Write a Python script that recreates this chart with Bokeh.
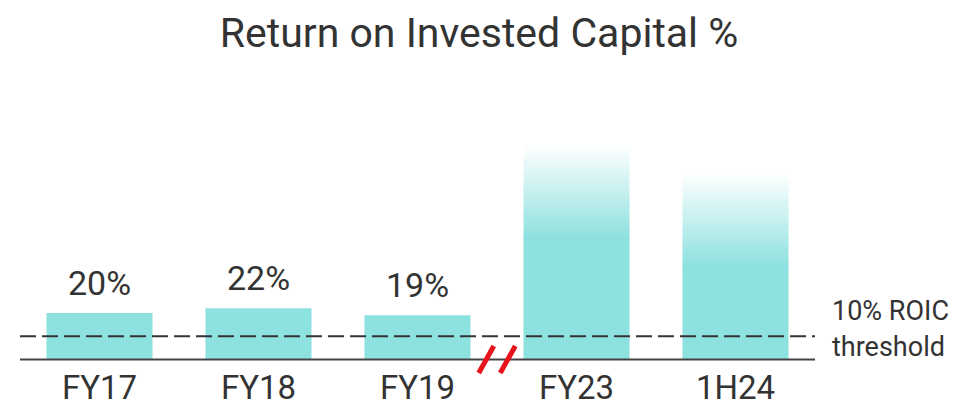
import math
import numpy as np
from bokeh.plotting import figure
from bokeh.models import Range1d, ColumnDataSource, Label
from bokeh.core.properties import value
from bokeh.embed import file_html
from bokeh.resources import INLINE

# ---- data ----
categories = ["FY17", "FY18", "FY19", "FY23", "1H24"]
roic = [20, 22, 19, 92, 80]            # drawn bar heights (%); last two are faded/truncated
value_labels = ["20%", "22%", "19%", "", ""]
faded = [False, False, False, True, True]
threshold = 10
threshold_text = ["10% ROIC", "threshold"]
title_text = "Return on Invested Capital %"
break_after = 2                         # axis break between FY19 and FY23

# ---- styling ----
BAR_RGB = (141, 225, 223)
BAR = "#%02X%02X%02X" % BAR_RGB
TXT = "#333333"
FONT = "Roboto"
W, H = 957, 408
PX_X = 159.0        # px per category
PX_Y = 2.33         # px per %
X0 = 99.0           # canvas x of first category centre
Y0 = 359.0          # canvas y of baseline
BAR_W = 0.667
FADE_LEN = 40.0
OVERLAP = 0.8
N_ROWS = 256

p = figure(width=W, height=H, output_backend="svg", toolbar_location=None,
           x_axis_location=None, y_axis_location=None, min_border=0,
           x_range=Range1d(-X0 / PX_X, (W - X0) / PX_X),
           y_range=Range1d(-(H - Y0) / PX_Y, Y0 / PX_Y))
p.outline_line_color = None
p.xgrid.visible = False
p.ygrid.visible = False
p.background_fill_color = "white"
p.border_fill_color = "white"

xs = list(range(len(categories)))

# solid bars (faded ones stop slightly inside the gradient to hide the seam)
solid_top = [v - FADE_LEN + OVERLAP if f else v for v, f in zip(roic, faded)]
p.quad(left=[x - BAR_W / 2 for x in xs], right=[x + BAR_W / 2 for x in xs],
       bottom=[0] * len(xs), top=solid_top, fill_color=BAR, line_color=None)

# faded tops: vertical RGBA gradient image (row 0 = bottom)
grad = np.zeros((N_ROWS, 1, 4), dtype=np.uint8)
grad[:, 0, 0], grad[:, 0, 1], grad[:, 0, 2] = BAR_RGB
grad[:, 0, 3] = np.round(255 * (1.0 - (np.arange(N_ROWS) + 0.5) / N_ROWS)).astype(np.uint8)
grad_img = grad.view(dtype=np.uint32).reshape((N_ROWS, 1))

imgs, ix, iy, idw, idh = [], [], [], [], []
for x, v, f in zip(xs, roic, faded):
    if not f:
        continue
    imgs.append(grad_img)
    ix.append(x - BAR_W / 2)
    iy.append(v - FADE_LEN)
    idw.append(BAR_W)
    idh.append(FADE_LEN)
p.image_rgba(image=imgs, x=ix, y=iy, dw=idw, dh=idh)

# threshold dashed line and baseline
x_lo, x_hi = -0.5, len(categories) - 0.5
p.segment(x0=[x_lo], y0=[threshold], x1=[x_hi], y1=[threshold],
          line_color=TXT, line_width=2, line_dash="16 6")
p.segment(x0=[x_lo], y0=[0], x1=[x_hi], y1=[0], line_color="#444444", line_width=2)

# value labels
src = ColumnDataSource(dict(x=xs, y=roic, t=value_labels))
p.text(x="x", y="y", text="t", source=src, text_align="center",
       text_baseline="middle", y_offset=-30, text_font=value(FONT),
       text_font_size="34px", text_color=TXT)

# category labels
p.text(x=xs, y=[0] * len(xs), text=categories, text_align="center",
       text_baseline="middle", y_offset=28, text_font=value(FONT),
       text_font_size="33px", text_color=TXT)

# threshold annotation
p.text(x=[x_hi, x_hi], y=[threshold, threshold], text=threshold_text,
       text_align="left", text_baseline="middle", x_offset=17, y_offset=[-25, 11],
       text_font=value(FONT), text_font_size="27px", text_color=TXT)

# axis-break marks
bx = break_after + 0.5
off = 10.75 / PX_X
p.scatter(x=[bx - off, bx + off], y=[0, 0], marker="dash", size=31,
          angle=math.radians(61), line_color="#E8121B", line_width=5)

# title
p.add_layout(Label(x=W / 2, y=H - 32.5, x_units="screen", y_units="screen",
                   text=title_text, text_align="center", text_baseline="middle",
                   text_font=FONT, text_font_size="41px", text_color=TXT))

open("out.html", "w").write(file_html(p, INLINE))
